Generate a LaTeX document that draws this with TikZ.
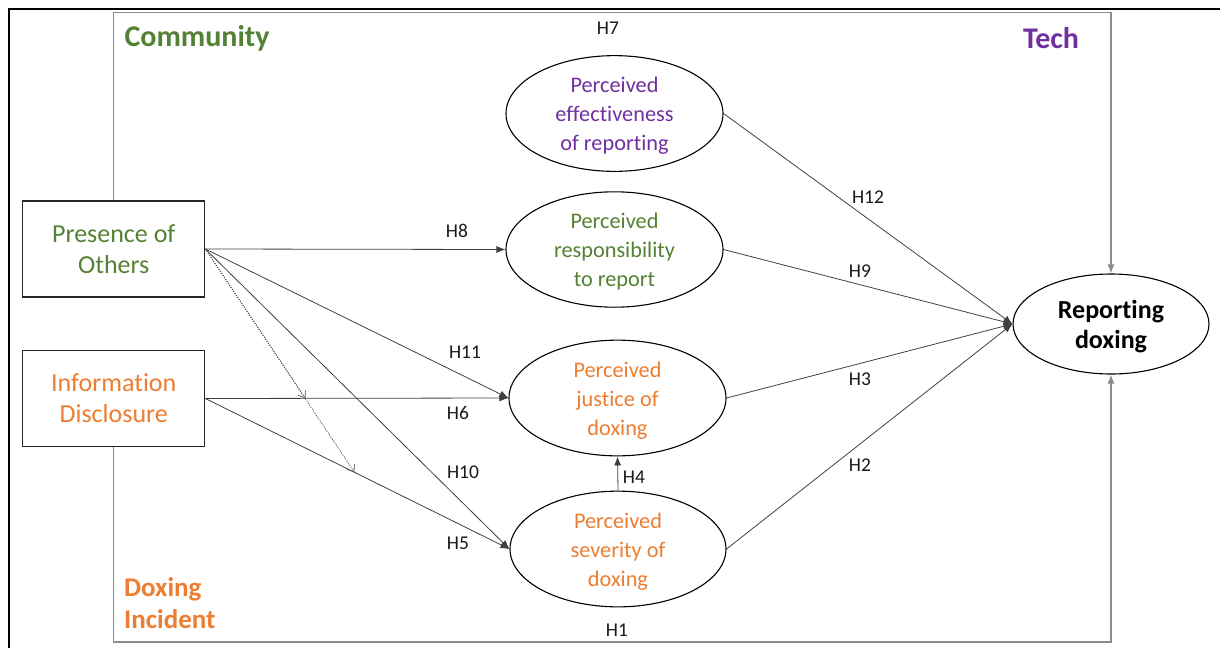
\documentclass[tikz,border=0pt]{standalone}
\usepackage{fontspec}
\setmainfont[Ligatures=NoCommon]{Carlito}
\usetikzlibrary{shapes.geometric,arrows.meta,calc}
\definecolor{cgreen}{HTML}{548235}
\definecolor{corange}{HTML}{ED7D31}
\definecolor{cpurple}{HTML}{7030A0}
\definecolor{cline}{HTML}{404040}
\definecolor{cframe}{HTML}{8C8C8C}
\newcommand{\lowr}{\rule{0pt}{20pt}}
\begin{document}
\begin{tikzpicture}[x=1pt,y=-1pt,
  boxnode/.style={draw=black!85,line width=1.2pt,fill=white,minimum width=182pt,minimum height=96pt,inner sep=0pt,align=center,font=\fontsize{26}{31}\selectfont},
  ell/.style={draw=black,line width=1.1pt,fill=white,ellipse,minimum width=217pt,minimum height=105pt,inner sep=0pt,align=center,font=\fontsize{22.3}{29}\selectfont},
  hlab/.style={font=\fontsize{19.5}{22}\selectfont,text=black!90,inner sep=0pt},
  grouplab/.style={font=\bfseries\fontsize{30}{32}\selectfont,inner sep=0pt},
  conn/.style={draw=cline,line width=0.8pt,-{Latex[length=9pt,width=7pt]}},
  modarr/.style={draw=black!70,line width=0.7pt,dash pattern=on 1.2pt off 1.2pt,-{Straight Barb[length=6pt,width=9pt]}},
  framearr/.style={draw=cframe,line width=1.2pt,-{Latex[length=9pt,width=7pt]}}
]
\useasboundingbox (0,0) rectangle (1220,648);
% outer page frame
\coordinate (oTL) at (9,9);
\coordinate (oTR) at (1220,9);
\coordinate (oBL) at (9,648);
\draw[line width=2pt,black] (oBL) -- (oTL) -- (oTR);

% nodes
\node[boxnode,text=cgreen] (pres) at (113.75,249) {Presence of\\Others};
\node[boxnode,text=corange] (info) at (113.75,398.5) {Information\\Disclosure};
\node[ell,text=cpurple] (eff) at (614.5,113.5) {\lowr Perceived\\effectiveness\\of reporting};
\node[ell,text=cgreen] (resp) at (614.5,249.5) {\lowr Perceived\\responsibility\\to report};
\node[ell,text=corange,minimum height=108pt] (just) at (617.5,398) {\lowr Perceived\\justice of\\doxing};
\node[ell,text=corange,minimum width=216pt,minimum height=104pt] (sev) at (618,549) {\lowr Perceived\\severity of\\doxing};
\node[ell,minimum width=196pt,minimum height=100pt,font=\bfseries\fontsize{26}{30}\selectfont] (rep) at (1111,324) {\rule{0pt}{23pt}Reporting\\doxing};

% group frames
\coordinate (gTL) at (113.75,12.5);
\coordinate (gTR) at (1111,12.5);
\coordinate (gBL) at (113.75,642);
\coordinate (gBR) at (1111,642);
\draw[framearr] (pres.north) -- (gTL) -- (gTR) -- (rep.north);
\draw[framearr] (info.south) -- (gBL) -- (gBR) -- (rep.south);

% group labels
\node[grouplab,text=cgreen] (lcomm) at (197,38) {Community};
\node[grouplab,text=cpurple] (ltech) at (1051,38) {Tech};
\node[grouplab,text=corange,anchor=west,align=left,font=\bfseries\fontsize{27}{32}\selectfont] (ldox) at (124,603) {Doxing\\Incident};

% connectors
\draw[conn] (pres.east) -- (resp.west);
\draw[conn] (pres.east) -- (just.west);
\draw[conn] (pres.east) -- (sev.west);
\draw[conn] (info.east) -- (just.west);
\draw[conn] (info.east) -- (sev.west);
\draw[conn] (sev.north) -- (just.south);
\draw[conn] (eff.east) -- (rep.west);
\draw[conn] (resp.east) -- (rep.west);
\draw[conn] (just.east) -- (rep.west);
\draw[conn] (sev.east) -- (rep.west);

% moderation arrows
\coordinate (m1) at ($(info.east)!0.33!(just.west)$);
\coordinate (m2) at ($(info.east)!0.49!(sev.west)$);
\draw[modarr] (pres.east) -- (m1);
\draw[modarr] (pres.east) -- (m2);

% hypothesis labels
\node[hlab] (h7) at (608,28) {H7};
\node[hlab] (h8) at (457,231) {H8};
\node[hlab] (h11) at (465,352) {H11};
\node[hlab] (h6) at (458,413) {H6};
\node[hlab] (h10) at (463,472) {H10};
\node[hlab] (h5) at (458,543) {H5};
\node[hlab] (h4) at (634,477) {H4};
\node[hlab] (h12) at (868,197) {H12};
\node[hlab] (h9) at (860,271) {H9};
\node[hlab] (h3) at (860,379) {H3};
\node[hlab] (h2) at (860,465) {H2};
\node[hlab] (h1) at (617,630) {H1};
\end{tikzpicture}
\end{document}
